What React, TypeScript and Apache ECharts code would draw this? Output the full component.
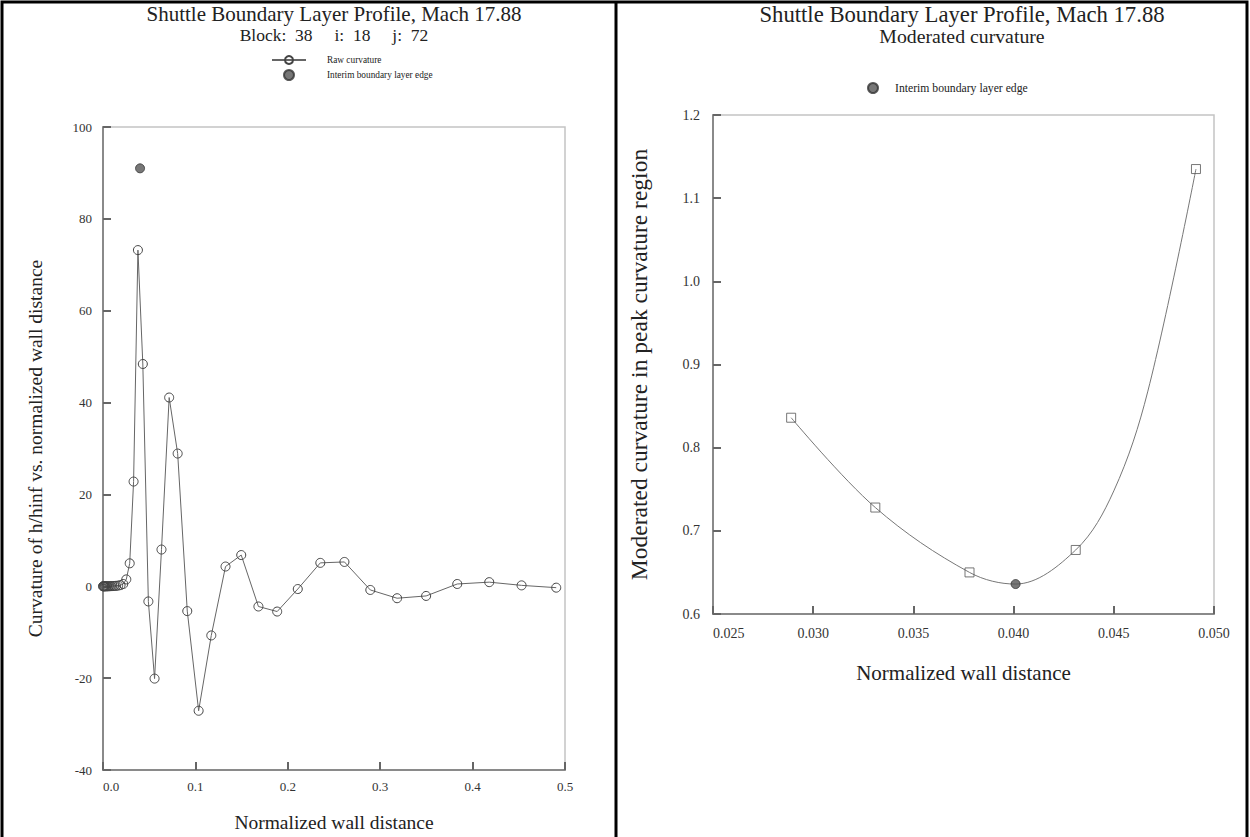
import React, { useEffect, useRef } from "react";
import * as echarts from "echarts";

// Left panel: raw curvature profile
const rawX = [0, 0.0004, 0.0009, 0.0015, 0.0022, 0.003, 0.0039, 0.0049, 0.006, 0.0073, 0.0087, 0.0103, 0.0121, 0.0141, 0.0164, 0.019, 0.0219, 0.0252, 0.0289, 0.0331, 0.0378, 0.0431, 0.0491, 0.0558, 0.0633, 0.0716, 0.0808, 0.0912, 0.1035, 0.1172, 0.1326, 0.1496, 0.1682, 0.1885, 0.2108, 0.2352, 0.2613, 0.2893, 0.3183, 0.3497, 0.3834, 0.418, 0.453, 0.4905];
const rawY = [0, 0, 0, 0, 0, 0, 0, 0.01, 0.01, 0.02, 0.03, 0.05, 0.07, 0.1, 0.15, 0.25, 0.5, 1.5, 5.0, 22.8, 73.2, 48.4, -3.3, -20.1, 8.0, 41.1, 28.9, -5.4, -27.1, -10.7, 4.3, 6.8, -4.4, -5.5, -0.6, 5.1, 5.3, -0.8, -2.6, -2.1, 0.5, 0.9, 0.2, -0.3];
const edgeRawX = [0.0401];
const edgeRawY = [91.0];

// Right panel: moderated curvature (squares) and the fitted curve
const modX = [0.0289, 0.0331, 0.0378, 0.0431, 0.0491];
const modY = [0.836, 0.728, 0.65, 0.677, 1.135];
const curveX = [0.0289, 0.0331, 0.0378, 0.0401, 0.0431, 0.045, 0.0467, 0.0491];
const curveY = [0.836, 0.728, 0.65, 0.636, 0.677, 0.748, 0.868, 1.135];
const edgeModX = [0.0401];
const edgeModY = [0.636];

const leftTicks = { min: 0, max: 0.5, interval: 0.1 };
const leftYTicks = { min: -40, max: 100, interval: 20 };
const rightTicks = { min: 0.025, max: 0.05, interval: 0.005 };
const rightYTicks = { min: 0.6, max: 1.2, interval: 0.1 };

const TITLE = "Shuttle Boundary Layer Profile, Mach 17.88";
const NB = "\u00a0";
const SUB_LEFT = `Block:${NB}${NB}38${NB.repeat(5)}i:${NB}${NB}18${NB.repeat(5)}j:${NB}${NB}72`;
const SUB_RIGHT = "Moderated curvature";
const SERIF = "'Liberation Serif', 'Times New Roman', serif";

export default function App() {
  const ref = useRef<HTMLDivElement>(null);
  useEffect(() => {
    if (!ref.current) return;
    const chart = echarts.init(ref.current, null, { renderer: "svg" });
    const axisLine = () => ({ show: true, onZero: false, lineStyle: { color: "#8a8a8a", width: 2 } });
    const axisTick = () => ({ show: true, inside: true, length: 8, lineStyle: { color: "#666", width: 2 } });
    const tickLabelL = { color: "#333", fontFamily: SERIF, fontSize: 13 };
    const tickLabelR = { color: "#333", fontFamily: SERIF, fontSize: 14 };
    const nameStyleL = { color: "#222", fontFamily: SERIF, fontSize: 19.5 };
    const nameStyleR = { color: "#222", fontFamily: SERIF, fontSize: 21 };
    const zip = (xs: number[], ys: number[]) => xs.map((x, i) => [x, ys[i]]);
    const titleStyle = (size: number) => ({ fontFamily: SERIF, fontSize: size, fontWeight: "normal", color: "#222" });

    chart.setOption({
      animation: false,
      backgroundColor: "#fff",
      textStyle: { fontFamily: SERIF },
      title: [
        { text: TITLE, left: 334, textAlign: "center", top: 3, padding: 0, textStyle: titleStyle(21) },
        { text: SUB_LEFT, left: 334, textAlign: "center", top: 26, padding: 0, textStyle: titleStyle(17.5) },
        { text: TITLE, left: 962, textAlign: "center", top: 3, padding: 0, textStyle: titleStyle(22.7) },
        { text: SUB_RIGHT, left: 962, textAlign: "center", top: 26, padding: 0, textStyle: titleStyle(19.8) },
      ],
      legend: [
        {
          orient: "vertical",
          left: 266,
          top: 50,
          itemGap: 4,
          itemWidth: 34,
          itemHeight: 10,
          data: ["Raw curvature", "Interim boundary layer edge"],
          textStyle: { fontFamily: SERIF, fontSize: 9.3, color: "#222", padding: [0, 0, 0, 16] },
        },
        {
          orient: "vertical",
          left: 862,
          top: 77,
          itemWidth: 26,
          itemHeight: 10,
          data: [{ name: "Interim boundary layer edge (mod)" }],
          formatter: () => "Interim boundary layer edge",
          textStyle: { fontFamily: SERIF, fontSize: 11.7, color: "#222", padding: [0, 0, 0, 4] },
        },
      ],
      grid: [
        { left: 103, top: 127, width: 462, height: 648, show: true, borderColor: "#c4c4c4", borderWidth: 1.5, containLabel: false },
        { left: 713, top: 115, width: 501, height: 499, show: true, borderColor: "#c4c4c4", borderWidth: 1.5, containLabel: false },
      ],
      xAxis: [
        {
          type: "value",
          gridIndex: 0,
          ...leftTicks,
          name: "Normalized wall distance",
          nameLocation: "middle",
          nameGap: 42,
          nameTextStyle: nameStyleL,
          axisLine: axisLine(),
          axisTick: axisTick(),
          splitLine: { show: false },
          axisLabel: { ...tickLabelL, margin: 10, alignMinLabel: "left", formatter: (v: number) => v.toFixed(1) },
        },
        {
          type: "value",
          gridIndex: 1,
          ...rightTicks,
          name: "Normalized wall distance",
          nameLocation: "middle",
          nameGap: 48,
          nameTextStyle: nameStyleR,
          axisLine: axisLine(),
          axisTick: axisTick(),
          splitLine: { show: false },
          axisLabel: { ...tickLabelR, margin: 12, alignMinLabel: "left", formatter: (v: number) => v.toFixed(3) },
        },
      ],
      yAxis: [
        {
          type: "value",
          gridIndex: 0,
          ...leftYTicks,
          name: "Curvature of h/hinf vs. normalized wall distance",
          nameLocation: "middle",
          nameGap: 58,
          nameTextStyle: nameStyleL,
          axisLine: axisLine(),
          axisTick: axisTick(),
          splitLine: { show: false },
          axisLabel: { ...tickLabelL, margin: 11 },
        },
        {
          type: "value",
          gridIndex: 1,
          ...rightYTicks,
          name: "Moderated curvature in peak curvature region",
          nameLocation: "middle",
          nameGap: 62,
          nameTextStyle: { ...nameStyleR, fontSize: 23.5 },
          axisLine: axisLine(),
          axisTick: axisTick(),
          splitLine: { show: false },
          axisLabel: { ...tickLabelR, margin: 13, formatter: (v: number) => v.toFixed(1) },
        },
      ],
      series: [
        {
          name: "Raw curvature",
          type: "line",
          xAxisIndex: 0,
          yAxisIndex: 0,
          data: zip(rawX, rawY),
          symbol: "circle",
          symbolSize: 9,
          lineStyle: { color: "#666", width: 1 },
          itemStyle: { color: "rgba(255,255,255,0)", borderColor: "#444", borderWidth: 1 },
        },
        {
          name: "Interim boundary layer edge",
          type: "scatter",
          xAxisIndex: 0,
          yAxisIndex: 0,
          data: zip(edgeRawX, edgeRawY),
          symbol: "circle",
          symbolSize: 9,
          itemStyle: { color: "#555", borderColor: "#333", borderWidth: 1 },
          z: 5,
        },
        {
          name: "Moderated curve",
          type: "line",
          xAxisIndex: 1,
          yAxisIndex: 1,
          data: zip(curveX, curveY),
          smooth: 0.35,
          showSymbol: false,
          symbol: "none",
          lineStyle: { color: "#777", width: 1 },
        },
        {
          name: "Moderated points",
          type: "scatter",
          xAxisIndex: 1,
          yAxisIndex: 1,
          data: zip(modX, modY),
          symbol: "rect",
          symbolSize: 9,
          itemStyle: { color: "rgba(255,255,255,0)", borderColor: "#555", borderWidth: 1 },
          z: 4,
        },
        {
          name: "Interim boundary layer edge (mod)",
          type: "scatter",
          xAxisIndex: 1,
          yAxisIndex: 1,
          data: zip(edgeModX, edgeModY),
          symbol: "circle",
          symbolSize: 9,
          itemStyle: { color: "#555", borderColor: "#333", borderWidth: 1 },
          z: 5,
        },
      ],
      graphic: [
        {
          type: "rect",
          shape: { x: 2, y: 2, width: 1245, height: 840 },
          style: { fill: "none", stroke: "#000", lineWidth: 3 },
          silent: true,
        },
        {
          type: "line",
          shape: { x1: 616, y1: 2, x2: 616, y2: 837 },
          style: { stroke: "#000", lineWidth: 3 },
          silent: true,
        },
      ],
    });
    return () => chart.dispose();
  }, []);
  return (
    <div
      ref={ref}
      style={{ position: "fixed", left: 0, top: 0, width: 1250, height: 837, background: "#fff" }}
    />
  );
}
